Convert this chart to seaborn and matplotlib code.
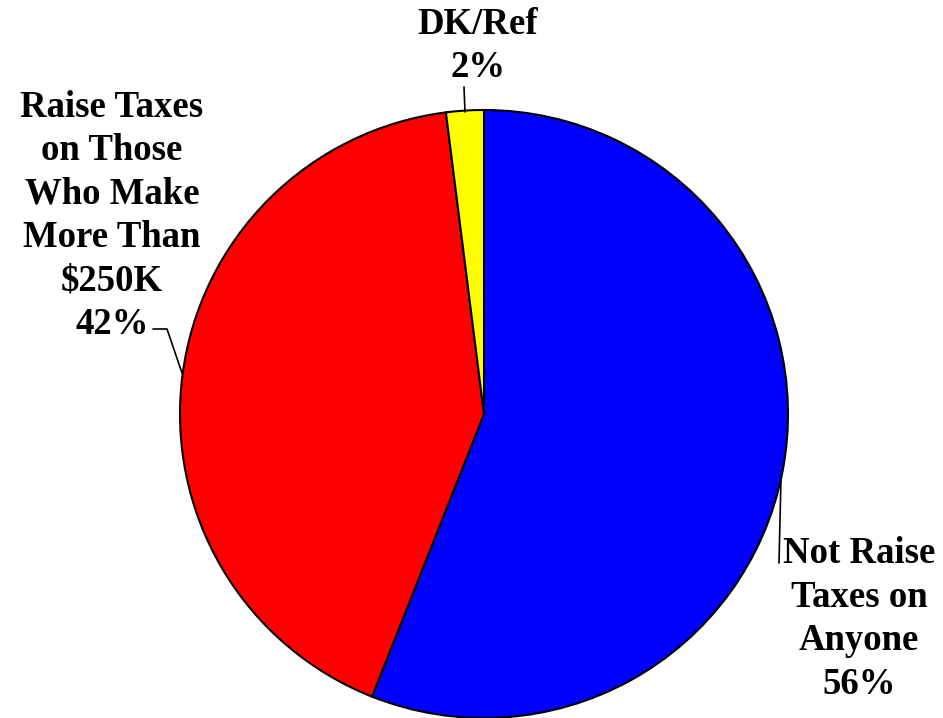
import matplotlib
matplotlib.use("Agg")
import matplotlib.pyplot as plt
import seaborn as sns
import numpy as np

labels = ["Not Raise\nTaxes on\nAnyone\n56%",
          "Raise Taxes\non Those\nWho Make\nMore Than\n$250K\n42%",
          "DK/Ref\n2%"]
values = [56, 42, 2]
colors = ["#0000FF", "#FF0000", "#FFFF00"]

sns.set_theme(style="white")
plt.rcParams['font.family'] = ['Liberation Serif', 'DejaVu Serif']

W, H = 943, 718
fig = plt.figure(figsize=(W / 100, H / 100), dpi=100)
cx, cy, R = 484, 414, 304
ax = fig.add_axes([(cx - R) / W, (H - cy - R) / H, 2 * R / W, 2 * R / H])

wedges, _ = ax.pie(values, colors=colors, startangle=90, counterclock=False,
                   radius=1.0,
                   wedgeprops=dict(edgecolor="black", linewidth=1.5))
ax.set_xlim(-1, 1)
ax.set_ylim(-1, 1)
ax.set_aspect("equal")
ax.axis("off")

def px(x, y):
    return ((x - cx) / R, (cy - y) / R)

tkw = dict(fontsize=26.5, fontweight="bold", ha="center", va="center",
           linespacing=1.31, clip_on=False, color="black")

# Label positions (pixel centres of text blocks)
pos = [(859, 619), (112, 216), (478, 46)]
for lab, (x, y) in zip(labels, pos):
    tx, ty = px(x, y)
    ax.text(tx, ty, lab, **tkw)

# Leader lines
lkw = dict(color="black", linewidth=1.2, clip_on=False)
leaders = [
    [(781, 478), (779, 563)],
    [(153, 329), (167, 329), (182, 373)],
    [(464, 87), (465, 112)],
]
for pts in leaders:
    xs, ys = zip(*[px(a, b) for a, b in pts])
    ax.plot(xs, ys, **lkw)

fig.savefig("out.png", dpi=100)
